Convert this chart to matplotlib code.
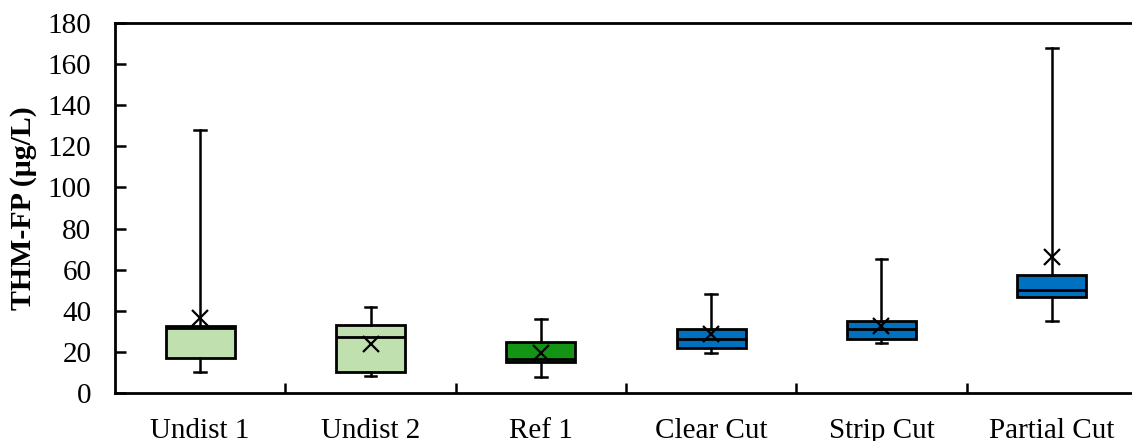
import matplotlib
matplotlib.use('Agg')
import matplotlib.pyplot as plt
from matplotlib.ticker import FixedLocator

# sitios y estadisticos de THM-FP por sitio
sitios = ['Undist 1', 'Undist 2', 'Ref 1', 'Clear Cut', 'Strip Cut', 'Partial Cut']
minimos = [10.0, 8.3, 7.6, 19.3, 24.2, 35.0]
q1 = [17.2, 10.0, 15.1, 22.0, 26.4, 46.5]
medianas = [31.8, 27.1, 16.5, 26.3, 31.3, 50.1]
q3 = [32.7, 32.9, 24.8, 31.1, 35.0, 57.5]
maximos = [128.0, 42.0, 36.0, 48.0, 65.2, 168.0]
promedios = [36.3, 23.7, 19.6, 28.7, 32.7, 66.0]
colores = ['#C0E0B0', '#C0E0B0', '#149414', '#0070C0', '#0070C0', '#0070C0']

plt.rcParams['font.family'] = ['Liberation Serif', 'DejaVu Serif']

stats = []
for i, s in enumerate(sitios):
    stats.append({'label': s, 'whislo': minimos[i], 'q1': q1[i], 'med': medianas[i],
                  'q3': q3[i], 'whishi': maximos[i], 'mean': promedios[i]})

fig = plt.figure(figsize=(11.32, 4.41), dpi=100)
ax = fig.add_axes([0.1016, 0.1088, 0.9028, 0.839])

pos = range(1, len(sitios) + 1)
bp = ax.bxp(stats, positions=pos, widths=0.405, patch_artist=True, showmeans=True,
            showfliers=False,
            boxprops=dict(edgecolor='black', linewidth=2.0),
            medianprops=dict(color='black', linewidth=2.0),
            whiskerprops=dict(color='black', linewidth=1.8),
            capprops=dict(color='black', linewidth=1.8),
            capwidths=0.07,
            meanprops=dict(marker='x', markeredgecolor='black', markersize=11,
                           markeredgewidth=1.6))
for caja, c in zip(bp['boxes'], colores):
    caja.set_facecolor(c)

ax.set_xlim(0.5, 6.5)
ax.set_ylim(0, 180)
ax.set_yticks(range(0, 181, 20))
ax.set_xticks(list(pos))
ax.set_xticklabels(sitios)
ax.xaxis.set_minor_locator(FixedLocator([1.5, 2.5, 3.5, 4.5, 5.5]))
ax.tick_params(axis='x', which='major', length=0, labelsize=21, pad=18)
ax.tick_params(axis='x', which='minor', direction='in', length=7, width=1.8)
ax.tick_params(axis='y', direction='in', length=8, width=1.8, labelsize=21, pad=17)
for lado in ['left', 'bottom', 'top', 'right']:
    ax.spines[lado].set_linewidth(2.0)
ax.set_ylabel('THM-FP (μg/L)', fontsize=21.5, fontweight='bold', labelpad=8)

fig.savefig('out.png', dpi=100)
